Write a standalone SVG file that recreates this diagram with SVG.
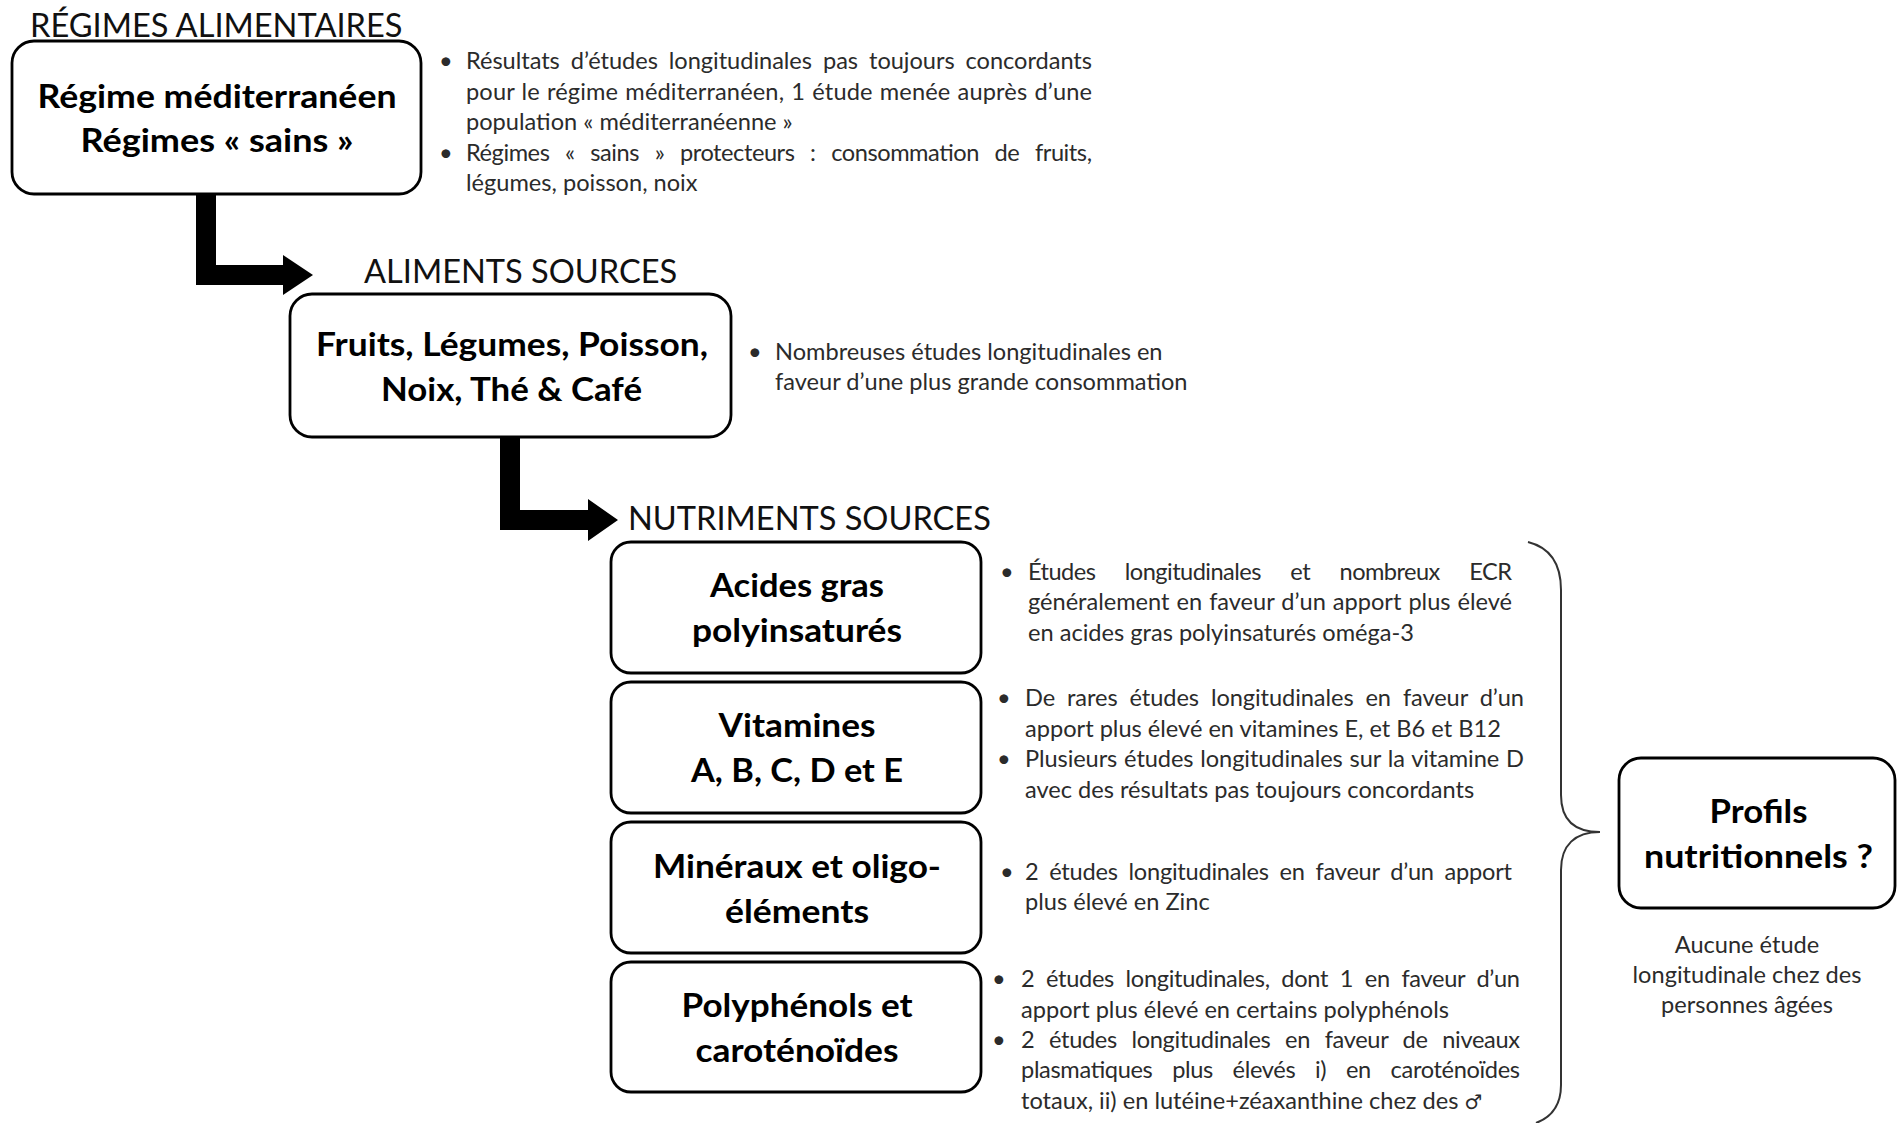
<svg xmlns="http://www.w3.org/2000/svg" width="1897" height="1123" viewBox="0 0 1897 1123">
<style>
.box{fill:#fff;stroke:#000;stroke-width:2.8}
.title{font-family:Lato,"Liberation Sans",sans-serif;font-size:32.6px;fill:#111}
.lbl{font-family:Lato,"Liberation Sans",sans-serif;font-size:32px;font-weight:bold;fill:#000;text-anchor:middle}
.body{font-family:Lato,"Liberation Sans",sans-serif;font-size:23.6px;fill:#2b2b2b}
.cap{font-family:Lato,"Liberation Sans",sans-serif;font-size:23.6px;fill:#2b2b2b;text-anchor:middle}
.sym{font-family:"DejaVu Sans",sans-serif;font-size:20px}
.arrow{fill:#000}
.brace{fill:none;stroke:#333;stroke-width:2}
</style>
<rect width="1897" height="1123" fill="#fff"/>

<g id="connectors">
<path class="arrow" d="M196,194 L216,194 L216,265 L283,265 L283,255 L313,275 L283,295 L283,285 L196,285 Z"/>
<path class="arrow" d="M500,437 L520,437 L520,510 L588,510 L588,499 L618,520 L588,541 L588,530 L500,530 Z"/>
<path class="brace" d="M1528,542 C1552,548 1561,565 1561,590 L1561,795 C1561,820 1575,832 1600,832 C1575,832 1561,845 1561,870 L1561,1085 C1561,1105 1552,1117 1536,1123"/>
</g>

<g id="titles">
<text class="title" x="30" y="37">RÉGIMES ALIMENTAIRES</text>
<text class="title" x="364" y="283">ALIMENTS SOURCES</text>
<text class="title" x="628" y="530">NUTRIMENTS SOURCES</text>
</g>

<g id="node-regimes">
<rect class="box" x="12" y="41" width="409" height="153" rx="22"/>
<text class="lbl" x="217" y="108" textLength="359" lengthAdjust="spacingAndGlyphs">Régime méditerranéen</text>
<text class="lbl" x="217" y="152" textLength="273" lengthAdjust="spacingAndGlyphs">Régimes « sains »</text>
</g>

<g id="text-regimes">
<text class="body" x="439" y="69">•</text>
<text class="body" x="466" y="69" word-spacing="5" textLength="626" lengthAdjust="spacing">Résultats d’études longitudinales pas toujours concordants</text>
<text class="body" x="466" y="99.5" word-spacing="1" textLength="626" lengthAdjust="spacing">pour le régime méditerranéen, 1 étude menée auprès d’une</text>
<text class="body" x="466" y="130">population « méditerranéenne »</text>
<text class="body" x="439" y="160.5">•</text>
<text class="body" x="466" y="160.5" word-spacing="10" textLength="626" lengthAdjust="spacing">Régimes « sains » protecteurs : consommation de fruits,</text>
<text class="body" x="466" y="191">légumes, poisson, noix</text>
</g>

<g id="node-aliments">
<rect class="box" x="290" y="294" width="441" height="143" rx="22"/>
<text class="lbl" x="512" y="356" textLength="392" lengthAdjust="spacingAndGlyphs">Fruits, Légumes, Poisson,</text>
<text class="lbl" x="511.5" y="401" textLength="261" lengthAdjust="spacingAndGlyphs">Noix, Thé &amp; Café</text>
</g>

<g id="text-aliments">
<text class="body" x="748" y="360">•</text>
<text class="body" x="775" y="360">Nombreuses études longitudinales en</text>
<text class="body" x="775" y="390">faveur d’une plus grande consommation</text>
</g>

<g id="node-acides">
<rect class="box" x="611" y="542" width="370" height="131" rx="20"/>
<text class="lbl" x="797" y="597" textLength="174" lengthAdjust="spacingAndGlyphs">Acides gras</text>
<text class="lbl" x="797" y="642" textLength="210" lengthAdjust="spacingAndGlyphs">polyinsaturés</text>
</g>
<g id="text-acides">
<text class="body" x="1000" y="580">•</text>
<text class="body" x="1028" y="580" word-spacing="24" textLength="484" lengthAdjust="spacing">Études longitudinales et nombreux ECR</text>
<text class="body" x="1028" y="610" word-spacing="1" textLength="484" lengthAdjust="spacing">généralement en faveur d’un apport plus élevé</text>
<text class="body" x="1028" y="641">en acides gras polyinsaturés oméga-3</text>
</g>

<g id="node-vitamines">
<rect class="box" x="611" y="682" width="370" height="131" rx="20"/>
<text class="lbl" x="797" y="737" textLength="157" lengthAdjust="spacingAndGlyphs">Vitamines</text>
<text class="lbl" x="797" y="782" textLength="212" lengthAdjust="spacingAndGlyphs">A, B, C, D et E</text>
</g>
<g id="text-vitamines">
<text class="body" x="997" y="706">•</text>
<text class="body" x="1025" y="706" word-spacing="6" textLength="499" lengthAdjust="spacing">De rares études longitudinales en faveur d’un</text>
<text class="body" x="1025" y="737">apport plus élevé en vitamines E, et B6 et B12</text>
<text class="body" x="997" y="767">•</text>
<text class="body" x="1025" y="767" word-spacing="1" textLength="499" lengthAdjust="spacing">Plusieurs études longitudinales sur la vitamine D</text>
<text class="body" x="1025" y="798">avec des résultats pas toujours concordants</text>
</g>

<g id="node-mineraux">
<rect class="box" x="611" y="822" width="370" height="131" rx="20"/>
<text class="lbl" x="797" y="878" textLength="288" lengthAdjust="spacingAndGlyphs">Minéraux et oligo-</text>
<text class="lbl" x="797" y="923" textLength="144" lengthAdjust="spacingAndGlyphs">éléments</text>
</g>
<g id="text-mineraux">
<text class="body" x="1000" y="880">•</text>
<text class="body" x="1025" y="880" word-spacing="5" textLength="487" lengthAdjust="spacing">2 études longitudinales en faveur d’un apport</text>
<text class="body" x="1025" y="910">plus élevé en Zinc</text>
</g>

<g id="node-polyphenols">
<rect class="box" x="611" y="962" width="370" height="130" rx="20"/>
<text class="lbl" x="797" y="1017" textLength="231" lengthAdjust="spacingAndGlyphs">Polyphénols et</text>
<text class="lbl" x="797" y="1062" textLength="203" lengthAdjust="spacingAndGlyphs">caroténoïdes</text>
</g>
<g id="text-polyphenols">
<text class="body" x="992" y="987">•</text>
<text class="body" x="1021" y="987" word-spacing="6" textLength="499" lengthAdjust="spacing">2 études longitudinales, dont 1 en faveur d’un</text>
<text class="body" x="1021" y="1018">apport plus élevé en certains polyphénols</text>
<text class="body" x="992" y="1048">•</text>
<text class="body" x="1021" y="1048" word-spacing="9" textLength="499" lengthAdjust="spacing">2 études longitudinales en faveur de niveaux</text>
<text class="body" x="1021" y="1078" word-spacing="14" textLength="499" lengthAdjust="spacing">plasmatiques plus élevés i) en caroténoïdes</text>
<text class="body" x="1021" y="1109">totaux, ii) en lutéine+zéaxanthine chez des <tspan class="sym">♂</tspan></text>
</g>

<g id="node-profils">
<rect class="box" x="1619" y="758" width="276" height="150" rx="22"/>
<text class="lbl" x="1758.5" y="823" textLength="98" lengthAdjust="spacingAndGlyphs">Profils</text>
<text class="lbl" x="1758.5" y="868" textLength="229" lengthAdjust="spacingAndGlyphs">nutritionnels ?</text>
</g>
<g id="caption-profils">
<text class="cap" x="1747" y="953">Aucune étude</text>
<text class="cap" x="1747" y="983">longitudinale chez des</text>
<text class="cap" x="1747" y="1013">personnes âgées</text>
</g>
</svg>
